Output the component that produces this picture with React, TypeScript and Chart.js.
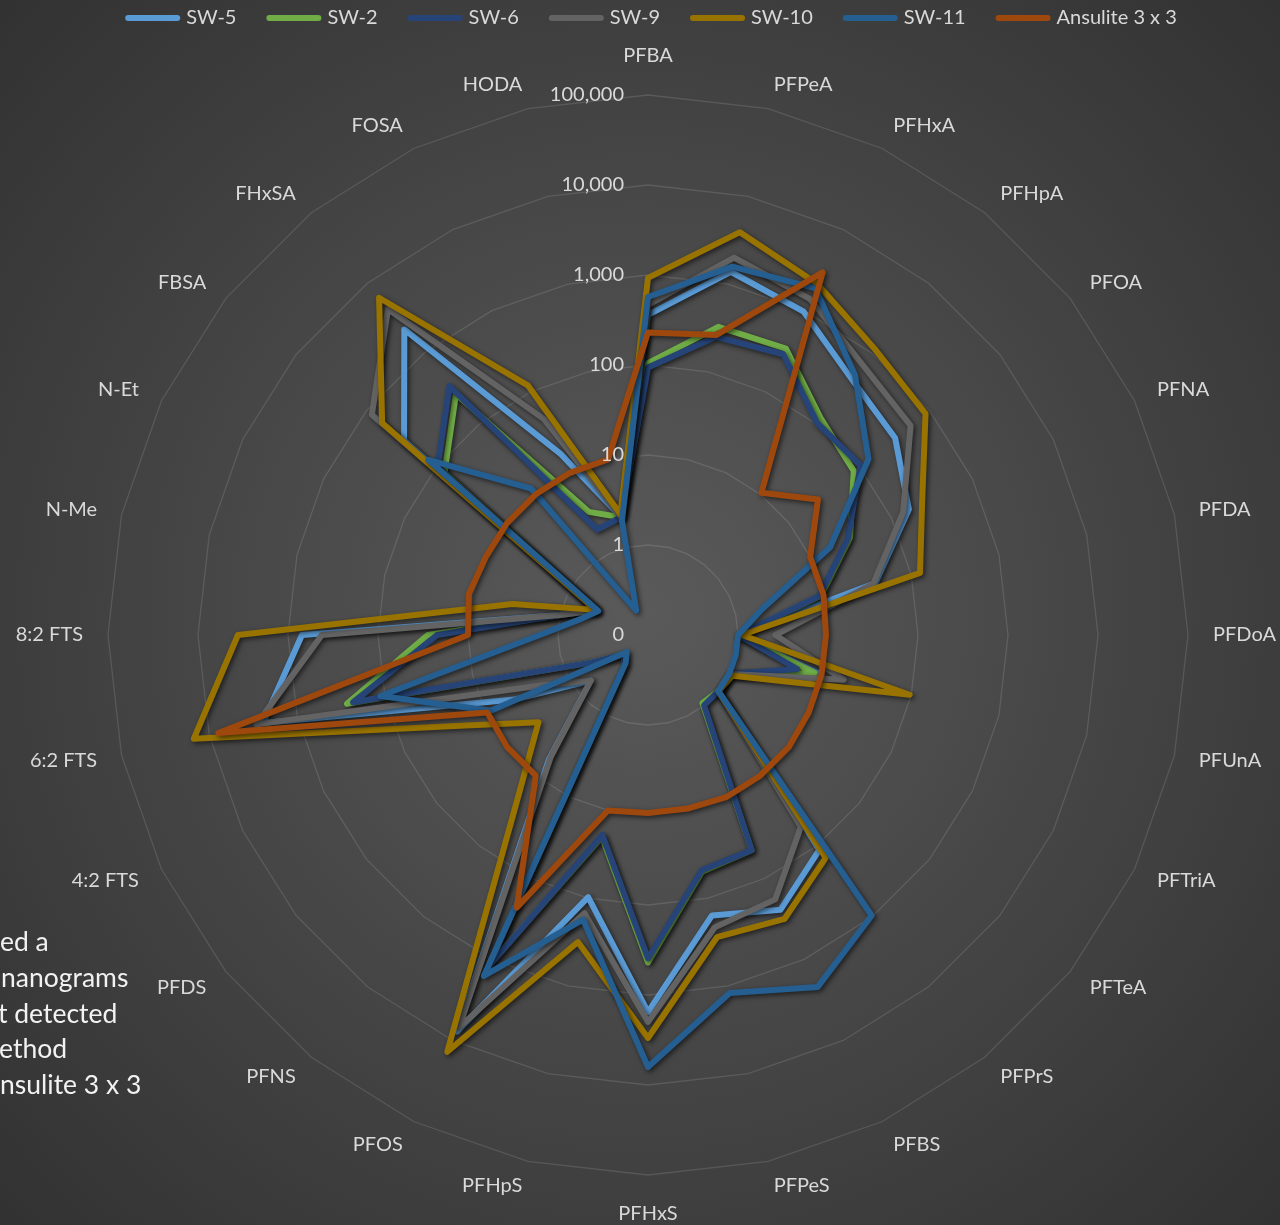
import React, { useEffect, useRef } from "react";
import { Chart, registerables } from "chart.js";

Chart.register(...registerables);

const categories = [
  "PFBA", "PFPeA", "PFHxA", "PFHpA", "PFOA", "PFNA", "PFDA", "PFDoA", "PFUnA", "PFTriA",
  "PFTeA", "PFPrS", "PFBS", "PFPeS", "PFHxS", "PFHpS", "PFOS", "PFNS", "PFDS", "4:2 FTS",
  "6:2 FTS", "8:2 FTS", "N-Me", "N-Et", "FBSA", "FHxSA", "FOSA", "HODA",
];

const sw5Values = [360, 1380, 970, 430, 325, 165, 39, 1, 9.1, 1, 1, 113, 245, 157, 1550, 97, 7800, 5.8, 0.65, 4.5, 2450, 700, 1, 0.43, 293, 2200, 17, 2.2];
const sw2Values = [105, 325, 340, 120, 84, 31, 9.4, 1, 7.9, 1, 1, 0.93, 45, 50, 435, 20, 1200, 0.26, 0.22, 0.51, 270, 28, 1, 0.43, 78, 265, 3.3, 2.2];
const sw6Values = [94, 250, 290, 103, 105, 29, 9, 1, 5.0, 1, 1, 1, 45, 48, 390, 19, 1250, 0.26, 0.22, 0.51, 230, 22, 1, 0.43, 98, 345, 2.0, 2.2];
const sw9Values = [465, 2000, 1400, 680, 540, 140, 37, 2.6, 17, 1, 1, 53, 182, 215, 2000, 148, 6900, 5.4, 0.65, 1.9, 2900, 420, 1, 0.43, 840, 4300, 46, 2.2];
const sw10Values = [930, 3900, 2150, 1130, 880, 240, 126, 1.1, 96, 1.1, 1, 147, 316, 278, 3000, 316, 13800, 21, 3.6, 21, 15000, 3600, 3.5, 0.44, 600, 6200, 120, 2.4];
const sw11Values = [570, 1580, 1900, 490, 136, 17.6, 2.0, 1, 1, 1, 1, 970, 2200, 1200, 6300, 175, 1600, 0.25, 0.2, 8.7, 112, 1.6, 0.6, 0.41, 132, 12, 0.2, 2.0];
const ansuliteValues = [230, 263, 2960, 10.5, 26, 10, 10, 9.5, 9.5, 9.6, 10, 10, 10, 9.5, 9.5, 10, 230, 10, 10, 9.6, 7900, 10, 11, 10, 10, 10, 10, 10];

const seriesNames = ["SW-5", "SW-2", "SW-6", "SW-9", "SW-10", "SW-11", "Ansulite 3 x 3"];
const seriesColors = ["#5B9BD5", "#70AD47", "#264478", "#636363", "#997300", "#255E91", "#9E480E"];

const tickValues = [0.1, 1, 10, 100, 1000, 10000, 100000];
const tickLabels = ["0", "1", "10", "100", "1,000", "10,000", "100,000"];

const noteLines = ["ed a", "nanograms", "t detected", "ethod", "nsulite 3 x 3"];
const noteOffsets = [0, 1, -2, -1, 0];

const W = 1280;
const H = 1225;
const CX = 648;
const CY = 635;
const RADIUS = 540;
const FONT = "Lato, 'Open Sans', sans-serif";
const TEXT_COLOR = "#D9D9D9";

export default function App() {
  const ref = useRef<HTMLCanvasElement>(null);

  useEffect(() => {
    const canvas = ref.current;
    if (!canvas) return;
    const seriesValues = [sw5Values, sw2Values, sw6Values, sw9Values, sw10Values, sw11Values, ansuliteValues];
    const datasets = seriesValues.map((vals, i) => ({
      label: seriesNames[i],
      data: vals.map((v) => Math.log10(v)),
      borderColor: seriesColors[i],
      backgroundColor: "transparent",
      borderWidth: 6,
      borderJoinStyle: "round" as const,
      fill: false,
      pointRadius: 0,
      pointHoverRadius: 0,
      pointHitRadius: 0,
      order: seriesValues.length - 1 - i,
    }));

    const overlay = {
      id: "overlay",
      beforeDatasetDraw(chart: any) {
        const ctx = chart.ctx;
        ctx.save();
        ctx.shadowColor = "rgba(0,0,0,0.6)";
        ctx.shadowBlur = 5;
        ctx.shadowOffsetX = 2;
        ctx.shadowOffsetY = 2;
      },
      afterDatasetDraw(chart: any) {
        chart.ctx.restore();
      },
      afterDraw(chart: any) {
        const ctx = chart.ctx;
        const scale = chart.scales.r;
        ctx.save();
        // tick labels
        ctx.font = `20px ${FONT}`;
        ctx.fillStyle = TEXT_COLOR;
        ctx.textAlign = "right";
        ctx.textBaseline = "middle";
        tickValues.forEach((v, i) => {
          const d = scale.getDistanceFromCenterForValue(Math.log10(v));
          ctx.fillText(tickLabels[i], scale.xCenter - 24, scale.yCenter - d);
        });
        // point labels
        const n = categories.length;
        categories.forEach((lab, i) => {
          if (i === 0 || i === n / 2) {
            const p = scale.getPointPosition(i, scale.drawingArea + 29);
            ctx.textAlign = "center";
            ctx.textBaseline = i === 0 ? "bottom" : "top";
            ctx.fillText(lab, p.x, p.y);
            return;
          }
          const p = scale.getPointPosition(i, scale.drawingArea + 25);
          ctx.textAlign = i < n / 2 ? "left" : "right";
          ctx.textBaseline = "middle";
          ctx.fillText(lab, p.x, p.y);
        });
        // legend
        ctx.font = `20px ${FONT}`;
        ctx.textAlign = "left";
        ctx.textBaseline = "middle";
        const sw = 55;
        const gapText = 6;
        const gapItem = 30;
        const widths = seriesNames.map((s) => ctx.measureText(s).width);
        const total = widths.reduce((a, b) => a + b, 0) + seriesNames.length * (sw + gapText) + (seriesNames.length - 1) * gapItem;
        let x = 651 - total / 2;
        const ly = 18;
        seriesNames.forEach((s, i) => {
          ctx.strokeStyle = seriesColors[i];
          ctx.lineWidth = 6;
          ctx.lineCap = "round";
          ctx.beginPath();
          ctx.moveTo(x + 3, ly);
          ctx.lineTo(x + sw - 3, ly);
          ctx.stroke();
          ctx.fillStyle = TEXT_COLOR;
          ctx.fillText(s, x + sw + gapText, ly);
          x += sw + gapText + widths[i] + gapItem;
        });
        ctx.restore();
      },
    };

    const chart = new Chart(canvas, {
      type: "radar",
      data: { labels: categories, datasets },
      options: {
        responsive: false,
        animation: false,
        events: [],
        layout: { padding: 0 },
        plugins: { legend: { display: false }, tooltip: { enabled: false } },
        scales: {
          r: {
            type: "radialLinear",
            min: -1,
            max: 5,
            ticks: { display: false, stepSize: 1 },
            grid: { color: "rgba(255,255,255,0.12)", lineWidth: 1.3, circular: false },
            angleLines: { display: false },
            pointLabels: { display: false },
            afterFit: (scale: any) => {
              scale.xCenter = CX;
              scale.yCenter = CY;
              scale.drawingArea = RADIUS;
            },
          },
        },
      } as any,
      plugins: [overlay],
    });
    return () => chart.destroy();
  }, []);

  return (
    <div
      style={{
        position: "absolute",
        left: 0,
        top: 0,
        width: W,
        height: H,
        overflow: "hidden",
        background: "radial-gradient(circle 900px at 640px 612px, #5a5a5a 0%, #313131 100%)",
      }}
    >
      <canvas ref={ref} width={W} height={H} style={{ display: "block", position: "absolute", left: 0, top: 0 }} />
      <div style={{ position: "absolute", left: 0, top: 924, fontFamily: FONT, fontSize: 26.5, lineHeight: "35.8px", color: "#F2F2F2", whiteSpace: "pre" }}>
        {noteLines.map((t, i) => (
          <div key={i} style={{ marginLeft: noteOffsets[i] }}>{t}</div>
        ))}
      </div>
    </div>
  );
}
